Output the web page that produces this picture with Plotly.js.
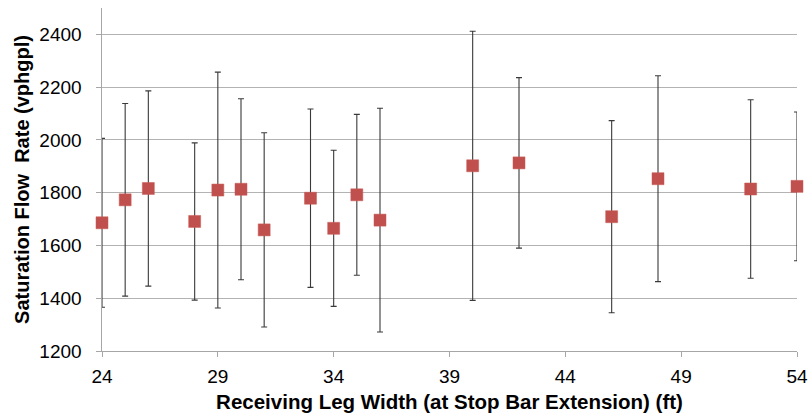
<!DOCTYPE html>
<html>
<head>
<meta charset="utf-8">
<script src="https://cdn.plot.ly/plotly-3.0.1.min.js"></script>
<style>
  html, body { margin: 0; padding: 0; background: #ffffff; }
  #chart { width: 808px; height: 420px; }
</style>
</head>
<body>
<div id="chart"></div>
<script>
// Receiving leg width (ft)
const legWidths = [24, 25, 26, 28, 29, 30, 31, 33, 34, 35, 36, 40, 42, 46, 48, 52, 54];
// Mean saturation flow rate (vphgpl)
const flowRates = [1686, 1773, 1816, 1691, 1810, 1813, 1659, 1779, 1665, 1792, 1696, 1902, 1913, 1709, 1853, 1814, 1824];
// One standard deviation around each mean
const flowStdDev = [320, 365, 370, 298, 447, 343, 368, 338, 296, 305, 424, 510, 323, 364, 390, 338, 282];

const xTicks = [24, 29, 34, 39, 44, 49, 54];
const yTicks = [1200, 1400, 1600, 1800, 2000, 2200, 2400];

const font = "Arial, 'Liberation Sans', sans-serif";

const trace = {
  x: legWidths,
  y: flowRates,
  type: 'scatter',
  mode: 'markers',
  cliponaxis: false,
  marker: { symbol: 'square', size: 12, color: '#C0504D', line: { color: '#C85A57', width: 0.5 } },
  error_y: {
    type: 'data',
    array: flowStdDev,
    symmetric: true,
    visible: true,
    color: '#3a3a3a',
    thickness: 1.1,
    width: 3
  },
  hoverinfo: 'x+y'
};

const layout = {
  width: 808,
  height: 420,
  margin: { l: 102, r: 11, t: 8, b: 69 },
  paper_bgcolor: '#ffffff',
  plot_bgcolor: '#ffffff',
  showlegend: false,
  font: { family: font, color: '#000000' },
  xaxis: {
    range: [24, 54],
    tickmode: 'array',
    tickvals: xTicks,
    ticktext: xTicks.map(String),
    ticks: 'outside',
    ticklen: 5,
    tickcolor: '#a6a6a6',
    ticklabelstandoff: 3,
    showgrid: false,
    zeroline: false,
    showline: true,
    linecolor: '#a6a6a6',
    linewidth: 1,
    layer: 'below traces',
    automargin: false,
    tickfont: { family: font, size: 19, color: '#000000' },
    title: {
      text: '<b>Receiving Leg Width (at Stop Bar Extension) (ft)</b>',
      font: { family: font, size: 20.5, color: '#000000' },
      standoff: 8
    }
  },
  yaxis: {
    range: [1200, 2500],
    tickmode: 'array',
    tickvals: yTicks,
    ticktext: yTicks.map(v => v + '\u00a0\u00a0'),
    ticks: 'outside',
    ticklen: 5,
    tickcolor: '#a6a6a6',
    showgrid: true,
    gridcolor: '#b3b3b3',
    gridwidth: 1,
    zeroline: false,
    showline: true,
    linecolor: '#a6a6a6',
    linewidth: 1,
    layer: 'below traces',
    automargin: false,
    tickfont: { family: font, size: 19, color: '#000000' },
    title: {
      text: '<b>Saturation Flow\u00a0 Rate (vphgpl)</b>',
      font: { family: font, size: 20, color: '#000000' },
      standoff: 4
    }
  }
};

Plotly.newPlot('chart', [trace], layout, { staticPlot: true, displayModeBar: false });
</script>
</body>
</html>
